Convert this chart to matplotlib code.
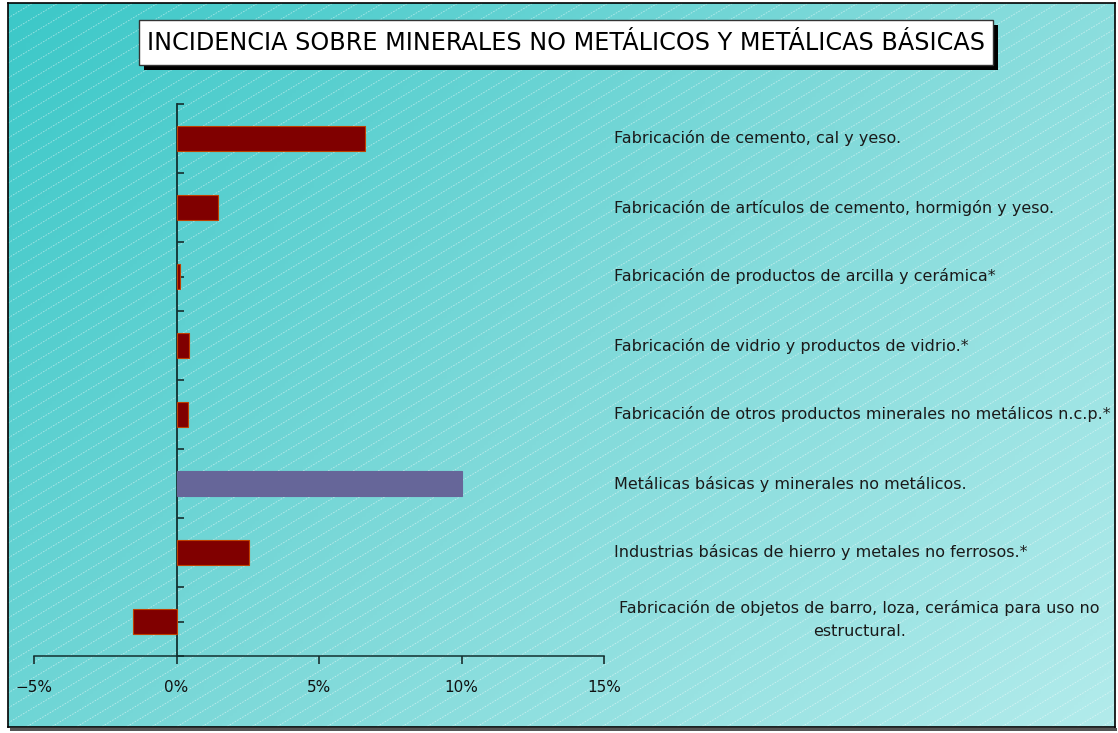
import numpy as np
import matplotlib
matplotlib.use("Agg")
import matplotlib.pyplot as plt
from matplotlib.patches import Rectangle
from matplotlib.colors import LinearSegmentedColormap

# datos
categorias = [
    "Fabricación de cemento, cal y yeso.",
    "Fabricación de artículos de cemento, hormigón y yeso.",
    "Fabricación de productos de arcilla y cerámica*",
    "Fabricación de vidrio y productos de vidrio.*",
    "Fabricación de otros productos minerales no metálicos n.c.p.*",
    "Metálicas básicas y minerales no metálicos.",
    "Industrias básicas de hierro y metales no ferrosos.*",
    "Fabricación de objetos de barro, loza, cerámica para uso no\nestructural.",
]
valores = [6.6, 1.45, 0.12, 0.43, 0.42, 10.0, 2.55, -1.53]
colores = ["#800000"] * 5 + ["#666699"] + ["#800000"] * 2
xticks = [-5, 0, 5, 10, 15]
xlabels = ["\u22125%", "0%", "5%", "10%", "15%"]
titulo = "INCIDENCIA SOBRE MINERALES NO METÁLICOS Y METÁLICAS BÁSICAS"

W, H = 1118, 733
fig = plt.figure(figsize=(W / 100, H / 100), dpi=100, facecolor="white")

def fx(px):
    return px / W

def fy(py):
    return 1 - py / H

# fondo con degradado y rayas
bg = fig.add_axes([fx(8), fy(727), fx(1107), (727 - 3) / H])
cmap = LinearSegmentedColormap.from_list("fondo", ["#3cc8c8", "#7ed9d9", "#b2ebeb"])
gx, gy = np.meshgrid(np.linspace(0, 1, 300), np.linspace(0, 1, 200))
bg.imshow(0.62 * gx + 0.38 * gy, cmap=cmap, aspect="auto", extent=[0, 1107, 724, 0])
for c in np.arange(-1200, 1800, 15):
    xs = np.array([0, 1107])
    bg.plot(xs, c - 0.6 * xs, color="white", lw=0.6, alpha=0.5, ls=(0, (2, 1.5)))
bg.set_xlim(0, 1107)
bg.set_ylim(724, 0)
bg.set_xticks([])
bg.set_yticks([])
for s in bg.spines.values():
    s.set_color("black")
    s.set_linewidth(1.2)
# sombra inferior del marco
fig.patches.append(Rectangle((fx(10), fy(731)), fx(1107), 3 / H, transform=fig.transFigure,
                             facecolor="#555555", edgecolor="none", zorder=0))

# titulo
fig.patches.append(Rectangle((fx(144), fy(70)), fx(854), 45 / H, transform=fig.transFigure,
                             facecolor="black", edgecolor="none", zorder=5))
fig.patches.append(Rectangle((fx(139), fy(65)), fx(854), 45 / H, transform=fig.transFigure,
                             facecolor="white", edgecolor="#333333", lw=1, zorder=6))
fig.text(fx(566), fy(43), titulo, ha="center", va="center", fontsize=17.2,
         color="black", zorder=7)

# grafico
ax = fig.add_axes([fx(34), fy(656), fx(570), 552 / H])
ax.patch.set_alpha(0)
y = np.arange(len(categorias))
for i in range(len(categorias)):
    ec = "#c04000" if colores[i] == "#800000" else colores[i]
    ax.barh(y[i], valores[i], height=0.37, color=colores[i], edgecolor=ec, lw=0.8, zorder=3)

ax.set_xlim(-5, 15)
ax.set_ylim(len(categorias) - 0.5, -0.5)
ax.spines["top"].set_visible(False)
ax.spines["right"].set_visible(False)
ax.spines["left"].set_position(("data", 0))
ax.spines["left"].set_color("#123030")
ax.spines["left"].set_linewidth(1.3)
ax.spines["bottom"].set_color("#123030")
ax.spines["bottom"].set_linewidth(1.1)
ax.set_yticks(np.arange(-0.5, len(categorias), 0.5))
ax.set_yticklabels([])
ax.tick_params(axis="y", direction="in", length=5, width=1.1, color="#102020")
ax.set_xticks(xticks)
ax.set_xticklabels(xlabels, fontsize=11, color="#111111")
ax.tick_params(axis="x", direction="out", length=6, width=1.1, pad=11, color="#102020")

for i, cat in enumerate(categorias):
    if "\n" in cat:
        ax.text(15.35 + 8.6, y[i] - 0.03, cat, ha="center", va="center", fontsize=11.5,
                color="#1a1a1a", linespacing=1.7, clip_on=False)
    else:
        ax.text(15.35, y[i], cat, ha="left", va="center", fontsize=11.5,
                color="#1a1a1a", clip_on=False)

fig.savefig("out.png", dpi=100, facecolor="white")
